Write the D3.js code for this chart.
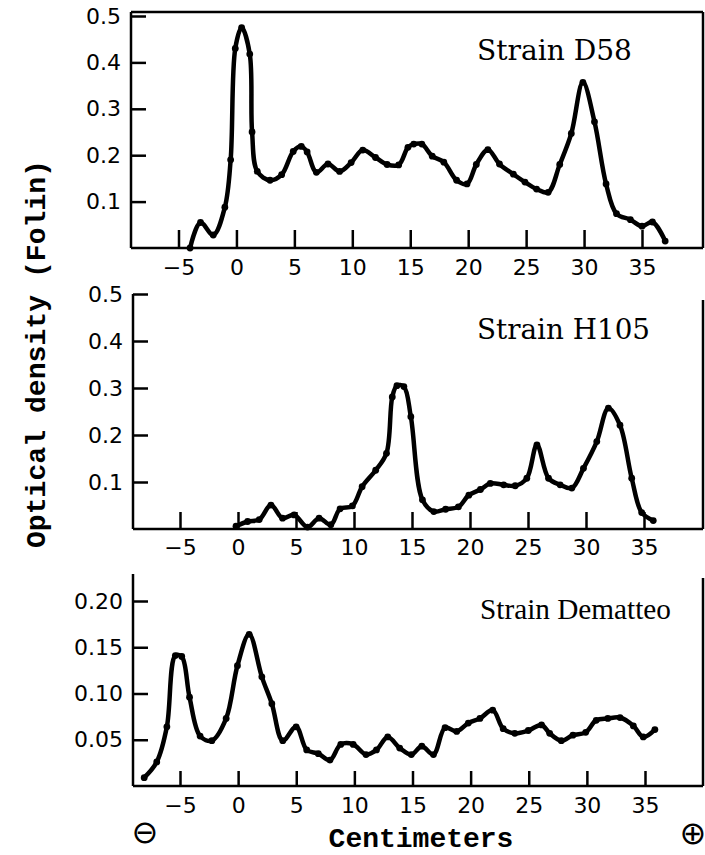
<!DOCTYPE html>
<meta charset="utf-8" />
<style>
  body { margin: 0; background: #fff; }
  .curve { fill: none; stroke: #000; stroke-width: 4.5px; stroke-linejoin: round; stroke-linecap: round; }
  .frame { stroke: #000; stroke-width: 2.5px; }
  .axis path.domain { display: none; }
  .axis line { stroke: #000; stroke-width: 2.5px; }
  .axis text { font-family: "DejaVu Sans"; font-size: 22px; fill: #000; }
  .title { font-family: "DejaVu Serif"; font-size: 27px; }
  .label { font-family: "Liberation Mono"; font-size: 28px; font-weight: bold; }
</style>
<body>
<div id="chart"></div>
<script src="https://d3js.org/d3.v7.min.js"></script>
<script>
  // tick values
  var xTicks = [-5, 0, 5, 10, 15, 20, 25, 30, 35];
  var yTicksTenths = [0.1, 0.2, 0.3, 0.4, 0.5];
  var yTicksTwentieths = [0.05, 0.10, 0.15, 0.20];

  // Strain D58
  var d58Cm = [-4.0, -3.1, -2.0, -1.0, -0.5, -0.1, 0.45, 1.15, 1.35, 1.8, 2.9, 3.9, 4.9, 5.6, 6.1, 6.9, 7.9, 8.9, 9.9, 10.9,
    12.0, 13.0, 14.0, 14.8, 15.3, 16.0, 16.9, 17.9, 19.0, 19.9, 20.7, 21.7, 22.7, 23.9, 24.9, 25.9, 26.9, 27.9, 28.9, 29.9,
    30.9, 31.9, 32.8, 34.0, 35.0, 35.9, 37.0];
  var d58Od = [0.0, 0.055, 0.028, 0.088, 0.19, 0.43, 0.475, 0.418, 0.25, 0.165, 0.146, 0.158, 0.208, 0.219, 0.207, 0.163, 0.181, 0.165, 0.184, 0.211,
    0.195, 0.18, 0.179, 0.217, 0.224, 0.224, 0.198, 0.185, 0.146, 0.138, 0.18, 0.212, 0.181, 0.159, 0.142, 0.127, 0.12, 0.18, 0.247, 0.357,
    0.272, 0.138, 0.074, 0.061, 0.047, 0.056, 0.015];

  // Strain H105
  var h105Cm = [-0.17, 0.83, 1.83, 2.84, 3.84, 4.84, 5.99, 6.99, 8.0, 8.8, 9.86, 10.7, 11.87, 12.8, 13.3, 13.7, 14.3, 14.9, 15.9, 16.88,
    17.9, 19.0, 19.9, 20.9, 21.75, 22.9, 23.9, 24.9, 25.77, 26.77, 27.77, 28.78, 29.78, 30.93, 31.93, 32.93, 33.94, 34.8, 35.8];
  var h105Od = [0.006, 0.016, 0.02, 0.051, 0.023, 0.03, 0.004, 0.023, 0.009, 0.043, 0.049, 0.09, 0.125, 0.161, 0.281, 0.305, 0.303, 0.239, 0.062, 0.037,
    0.042, 0.047, 0.072, 0.084, 0.097, 0.094, 0.092, 0.108, 0.179, 0.108, 0.094, 0.087, 0.129, 0.186, 0.257, 0.221, 0.108, 0.035, 0.018];

  // Strain Dematteo
  var demCm = [-8.08, -7.0, -6.13, -5.4, -4.85, -4.18, -3.27, -2.26, -1.03, -0.06, 0.95, 2.04, 2.9, 3.84, 4.99, 5.9, 6.9, 7.9, 8.83, 9.9,
    11.0, 11.9, 12.87, 13.9, 14.9, 15.8, 16.8, 17.8, 18.8, 19.8, 20.8, 21.9, 22.8, 23.8, 24.96, 26.1, 26.8, 27.8, 28.8, 29.9,
    30.8, 31.8, 32.85, 34.0, 34.85, 35.85];
  var demOd = [0.009, 0.026, 0.064, 0.141, 0.140, 0.096, 0.054, 0.049, 0.073, 0.130, 0.164, 0.118, 0.089, 0.049, 0.064, 0.039, 0.035, 0.028, 0.045, 0.045,
    0.034, 0.039, 0.053, 0.041, 0.034, 0.043, 0.034, 0.063, 0.059, 0.068, 0.073, 0.082, 0.062, 0.057, 0.060, 0.066, 0.057, 0.049, 0.055, 0.058,
    0.071, 0.073, 0.074, 0.065, 0.053, 0.061];

  var svg = d3.select("#chart").append("svg")
    .attr("width", 705)
    .attr("height", 855);

  function drawPanel(p) {
    var x = d3.scaleLinear().domain([-5, 35]).range(p.xRange);
    var y = d3.scaleLinear().domain(p.yDomain).range(p.yRange);
    var g = svg.append("g");

    // frame lines
    p.frame.forEach(function (f) {
      g.append("line").attr("class", "frame")
        .attr("x1", f[0]).attr("y1", f[1]).attr("x2", f[2]).attr("y2", f[3]);
    });

    // x axis, ticks pointing up into the plot
    g.append("g").attr("class", "axis")
      .attr("transform", "translate(0," + p.yRange[0] + ")")
      .call(d3.axisBottom(x).tickValues(xTicks).tickSize(-p.xTickLen).tickPadding(p.xPad)
        .tickFormat(d3.format("d")));

    // y axis, ticks pointing right
    g.append("g").attr("class", "axis")
      .attr("transform", "translate(" + p.axisX + ",0)")
      .call(d3.axisLeft(y).tickValues(p.yTicks).tickSize(-15).tickPadding(10)
        .tickFormat(d3.format(p.yFmt)));

    var pts = p.cm.map(function (c, i) { return [c, p.od[i]]; });
    var line = d3.line()
      .x(function (d) { return x(d[0]); })
      .y(function (d) { return y(d[1]); })
      .curve(d3.curveCatmullRom.alpha(0.5));

    g.append("path").datum(pts).attr("class", "curve").attr("d", line);
    g.selectAll("circle").data(pts).enter().append("circle")
      .attr("cx", function (d) { return x(d[0]); })
      .attr("cy", function (d) { return y(d[1]); })
      .attr("r", 3.4);

    g.append("text").attr("class", "title")
      .attr("x", p.title[1]).attr("y", p.title[2])
      .attr("textLength", p.title[3]).attr("lengthAdjust", "spacingAndGlyphs")
      .style("font-size", p.title[4] + "px")
      .style("font-family", p.title[5])
      .text(p.title[0]);
  }

  drawPanel({
    cm: d58Cm, od: d58Od,
    xRange: [178.5, 642], yDomain: [0, 0.5], yRange: [248, 16],
    yTicks: yTicksTenths, yFmt: ".1f", axisX: 131, xTickLen: 18, xPad: 11,
    frame: [[131, 12, 703, 12], [131, 12, 131, 248], [703, 12, 703, 248], [131, 248, 703, 248]],
    title: ["Strain D58", 477, 60, 155, 28, "DejaVu Serif"]
  });

  drawPanel({
    cm: h105Cm, od: h105Od,
    xRange: [180, 644], yDomain: [0, 0.5], yRange: [529, 294],
    yTicks: yTicksTenths, yFmt: ".1f", axisX: 133, xTickLen: 17, xPad: 10,
    frame: [[133, 294, 133, 529], [703, 300, 703, 529], [133, 529, 703, 529]],
    title: ["Strain H105", 477, 339, 173, 28, "DejaVu Serif"]
  });

  drawPanel({
    cm: demCm, od: demOd,
    xRange: [180, 645], yDomain: [0, 0.2], yRange: [786, 601],
    yTicks: yTicksTwentieths, yFmt: ".2f", axisX: 133, xTickLen: 15, xPad: 11,
    frame: [[133, 574, 133, 786], [703, 578, 703, 786], [133, 786, 703, 786]],
    title: ["Strain Dematteo", 480, 619, 191, 29, "Liberation Serif"]
  });

  // axis titles
  svg.append("text").attr("class", "label")
    .attr("transform", "translate(45,354) rotate(-90)")
    .attr("text-anchor", "middle")
    .attr("textLength", 388).attr("lengthAdjust", "spacingAndGlyphs")
    .text("Optical density (Folin)");

  svg.append("text").attr("class", "label")
    .attr("x", 421).attr("y", 847)
    .attr("text-anchor", "middle")
    .text("Centimeters");

  svg.append("text").attr("x", 145).attr("y", 843)
    .attr("text-anchor", "middle")
    .style("font-family", "DejaVu Sans").style("font-size", "32px")
    .text("\u2296");
  svg.append("text").attr("x", 693).attr("y", 844)
    .attr("text-anchor", "middle")
    .style("font-family", "DejaVu Sans").style("font-size", "32px")
    .text("\u2295");
</script>
</body>
